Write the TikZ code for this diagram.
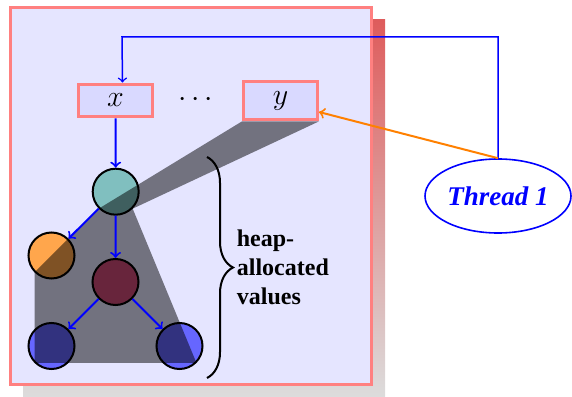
\RequirePackage{fix-cm}
\documentclass[tikz,border=0pt]{standalone}
\usepackage{fontspec}
\setmainfont{Liberation Serif}
\usetikzlibrary{shapes.geometric,decorations.pathreplacing}

\definecolor{shadowTop}{RGB}{222,92,92}
\definecolor{shadowBottom}{RGB}{220,220,220}

\begin{document}
\begin{tikzpicture}[
    x=0.5pt,
    y=0.5pt,
    every node/.style={font=\small},
    varBox/.style={draw=red!50, line width=1.5pt, fill=blue!15, minimum width=37pt,
        inner xsep=4pt, inner ysep=5pt, font=\fontsize{15}{18}\selectfont},
    heapValue/.style={circle, draw=black, line width=1pt, minimum size=23pt, inner sep=0pt},
    pointsTo/.style={->, draw=blue, line width=1pt},
    threadBubble/.style={ellipse, draw=blue, line width=0.8pt, inner sep=0pt,
        minimum width=73pt, minimum height=37pt, text=blue,
        font=\fontsize{13.5}{16}\selectfont\bfseries\itshape}
]
\useasboundingbox (0,0) rectangle (572,396);

% Stack frame:
% shaded shadow first, then the lavender frame with its pink border.
\shade[top color=shadowTop, bottom color=shadowBottom] (23,-1) rectangle (385,376);
\draw[draw=red!50, fill=blue!10, line width=1.5pt] (10.5,11.8) rectangle (371.8,388.5);

% Variables x ... y:
\node[varBox] (x) at (115.5,295.5) {$x$};
\node[font=\fontsize{15}{18}\selectfont] (dots) at (195.5,296) {$\cdots$};
\node[varBox] (y) at (280.5,295.5) {$y$};

% Heap values:
% a small tree below x.
\node[heapValue, fill=teal!50] (root) at (115.7,204.3) {};
\node[heapValue, fill=orange!70] (leftLeaf) at (51.5,140.5) {};
\node[heapValue, fill=purple!70] (mid) at (115.5,114) {};
\node[heapValue, fill=blue!60] (lowLeft) at (51.5,50) {};
\node[heapValue, fill=blue!60] (lowRight) at (179.5,50) {};

% Region reachable from y:
% half-transparent black, laid over the circles.
\fill[black, opacity=0.5] (y.south west) -- (y.south east) -- (root.south east)
    -- (lowRight.south east) -- (lowLeft.south west) -- (leftLeaf.south west)
    -- (leftLeaf.north east) -- (root.south west) -- cycle;

\draw[pointsTo] (x.south) -- (root.north);
\draw[pointsTo] (root) -- (leftLeaf);
\draw[pointsTo] (root) -- (mid);
\draw[pointsTo] (mid) -- (lowLeft);
\draw[pointsTo] (mid) -- (lowRight);

% Brace and its label:
\coordinate (braceTop) at (207,239);
\coordinate (braceBot) at (207,18);
\draw[decorate, decoration={brace, amplitude=13pt}, line width=1pt] (braceTop) -- (braceBot);
\node[anchor=west, align=left, inner sep=0pt,
    font=\fontsize{12}{14.5}\selectfont\bfseries] (heapLabel) at (236.5,128.5)
    {heap-\\allocated\\values};

% Thread:
% outside the frame, pointing back to x and to y.
\node[threadBubble] (thread) at (498,200) {Thread 1};
\coordinate (xIn) at ([xshift=3.5pt]x.north);
\coordinate (bend) at (122,359);
\draw[pointsTo, line width=0.75pt] (thread.north) |- (bend) -- (xIn);
\draw[->, draw=orange, line width=1pt] (thread.north) -- ([yshift=-5.75pt]y.east);

\end{tikzpicture}
\end{document}
